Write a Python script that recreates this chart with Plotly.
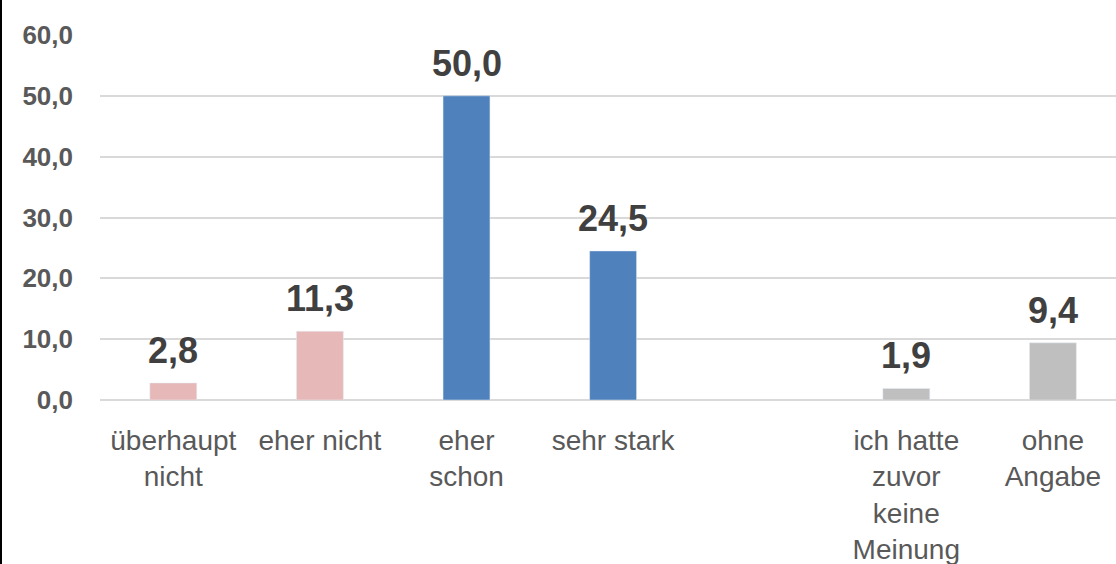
import plotly.graph_objects as go

categories = ["überhaupt<br>nicht", "eher nicht", "eher<br>schon", "sehr stark", " ",
              "ich hatte<br>zuvor<br>keine<br>Meinung", "ohne<br>Angabe"]
values = [2.8, 11.3, 50.0, 24.5, None, 1.9, 9.4]
labels = ["2,8", "11,3", "50,0", "24,5", "", "1,9", "9,4"]
colors = ["#E6B9B8", "#E6B9B8", "#4F81BD", "#4F81BD", "#FFFFFF", "#BFBFBF", "#BFBFBF"]
y_ticks = [0, 10, 20, 30, 40, 50, 60]
y_ticktext = ["0,0", "10,0", "20,0", "30,0", "40,0", "50,0", "60,0"]

W, H = 1116, 564
L, R, T, B = 100, 0, 35, 164
pw = W - L - R
ph = H - T - B
FONT = "Liberation Sans, Arial"

fig = go.Figure(go.Bar(
    x=categories, y=values, marker_color=colors, width=0.32,
    hoverinfo="skip",
))

annotations = []
for c, v, t in zip(categories, values, labels):
    if v is None:
        continue
    annotations.append(dict(
        x=c, y=v, xref="x", yref="y", text=t, showarrow=False,
        yanchor="bottom", yshift=10,
        font=dict(family=FONT, size=36, color="#404040", weight="bold"),
    ))

slot = 146.6
fig.update_layout(
    width=W, height=H, margin=dict(l=L, r=R, t=T, b=B, autoexpand=False),
    paper_bgcolor="white", plot_bgcolor="white", showlegend=False,
    font=dict(family=FONT),
    annotations=annotations,
    xaxis=dict(
        type="category", range=[-0.5, -0.5 + pw / slot], showgrid=False,
        tickfont=dict(size=28, color="#595959"), ticks="", ticklabelstandoff=21,
        showline=False, zeroline=False, automargin=False,
    ),
    yaxis=dict(
        range=[0, 60], tickvals=y_ticks, ticktext=y_ticktext,
        tickfont=dict(size=26, color="#595959", weight="bold"),
        showgrid=True, gridcolor="#D9D9D9", gridwidth=1.5,
        zeroline=True, zerolinecolor="#D9D9D9", zerolinewidth=1.5,
        ticklabelstandoff=26, showline=False, automargin=False,
    ),
    shapes=[dict(type="line", xref="paper", yref="paper",
                 x0=-L / pw + 1 / pw, x1=-L / pw + 1 / pw,
                 y0=-B / ph, y1=1 + T / ph,
                 line=dict(color="#000000", width=2))],
)

fig.write_html("out.html", config={"displayModeBar": False},
               post_script="document.body.style.margin='0px';document.body.style.overflow='hidden';")
